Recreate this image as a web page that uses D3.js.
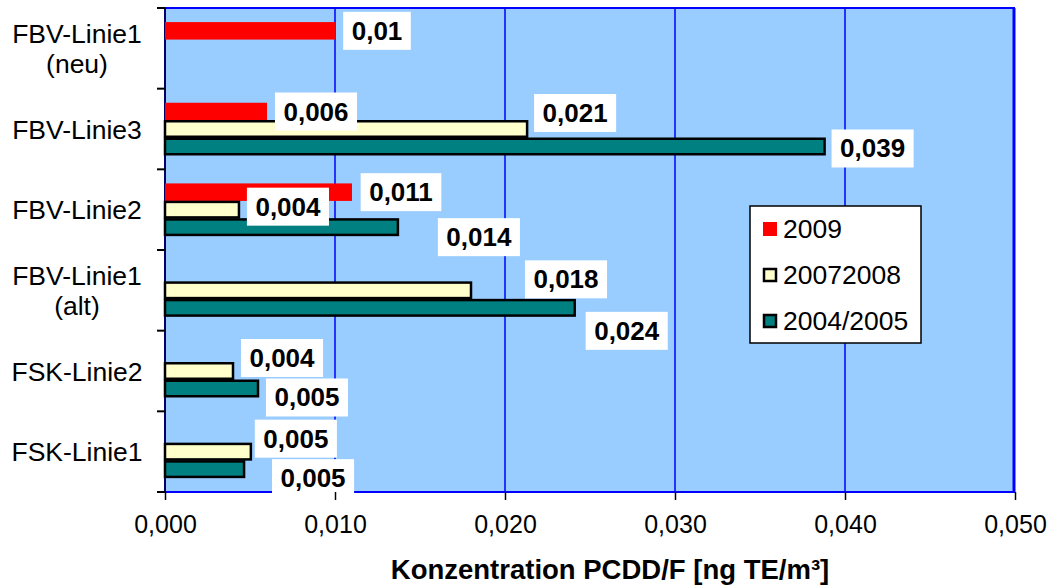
<!DOCTYPE html>
<html lang="de">
<head>
<meta charset="UTF-8">
<title>Konzentration PCDD/F</title>
<script src="https://d3js.org/d3.v7.min.js"></script>
<style>
body { margin: 0; background: #fff; }
svg { font-family: "Liberation Sans", Arial, sans-serif; }
.cat-label { font-size: 26.5px; fill: #000; }
.tick text { font-size: 25px; fill: #000; }
.val-label { font-size: 26px; font-weight: bold; fill: #000; }
.axis-title { font-size: 27.5px; font-weight: bold; }
.legend text { font-size: 26.5px; }
</style>
</head>
<body>
<svg id="chart" width="1050" height="588"></svg>
<script>

// Daten
const categories = ["FBV-Linie1 (neu)", "FBV-Linie3", "FBV-Linie2", "FBV-Linie1 (alt)", "FSK-Linie2", "FSK-Linie1"];
const series = ["2009", "20072008", "2004/2005"];
const values2009 = [0.010, 0.006, 0.011, null, null, null];
const values2007 = [null, 0.0213, 0.00435, 0.018, 0.004, 0.00505];
const values2004 = [null, 0.0388, 0.0137, 0.0241, 0.00547, 0.00465];
const xTicks = [0, 0.01, 0.02, 0.03, 0.04, 0.05];

const colors = ["#ff0000", "#ffffcc", "#008080"];
const strokes = ["none", "#000", "#000"];

// Position der Beschriftungen (Mitte relativ zum Balkenende) - von Hand verschoben wie im Original
const labelShift = [
    [[42, 0], null, null],
    [[49, 0], [48, -16], [48, 2]],
    [[49, 0], [49, -3], [81, 10]],
    [null, [95, -11], [52, 23]],
    [null, [49, -13], [49, 9]],
    [null, [45, -13], [69, 9]]
];

const svg = d3.select("#chart");
const margin = { left: 165, right: 1015, top: 8, bottom: 492 };

const x = d3.scaleLinear().domain([0, 0.05]).range([margin.left, margin.right]);
const y0 = d3.scaleBand().domain(categories).range([margin.top, margin.bottom]).padding(0);
const y1 = d3.scaleBand().domain(series).range([0, y0.bandwidth()]).paddingInner(0).paddingOuter(0.805);

const de = d3.formatLocale({ decimal: ",", thousands: ".", grouping: [3], currency: ["", " €"] });
const fmtTick = de.format(".3f");
const fmtVal = de.format(".3~f");

// Zeichenfläche
svg.append("rect")
    .attr("x", margin.left)
    .attr("y", margin.top)
    .attr("width", margin.right - margin.left)
    .attr("height", margin.bottom - margin.top)
    .attr("fill", "#99ccff");

// Gitternetz
svg.selectAll(".grid")
    .data(xTicks.slice(1, -1))
    .enter()
    .append("line")
    .attr("x1", d => x(d)).attr("x2", d => x(d))
    .attr("y1", margin.top).attr("y2", margin.bottom)
    .attr("stroke", "#0000ff")
    .attr("stroke-width", 1.5);

// Rahmen
svg.append("line").attr("x1", margin.left).attr("x2", margin.right).attr("y1", margin.top).attr("y2", margin.top)
    .attr("stroke", "#0000ff").attr("stroke-width", 2);
svg.append("line").attr("x1", margin.right - 1).attr("x2", margin.right - 1).attr("y1", margin.top).attr("y2", margin.bottom)
    .attr("stroke", "#0000ff").attr("stroke-width", 3);
svg.append("line").attr("x1", margin.left).attr("x2", margin.right).attr("y1", margin.bottom).attr("y2", margin.bottom)
    .attr("stroke", "#0000ff").attr("stroke-width", 2);
svg.append("line").attr("x1", margin.left).attr("x2", margin.left).attr("y1", margin.top).attr("y2", margin.bottom)
    .attr("stroke", "#000066").attr("stroke-width", 2);

// Balken
const rows = categories.map((c, i) => ({
    cat: c,
    idx: i,
    vals: [values2009[i], values2007[i], values2004[i]]
}));

const groups = svg.selectAll(".cat")
    .data(rows)
    .enter()
    .append("g")
    .attr("class", "cat")
    .attr("transform", d => "translate(0," + y0(d.cat) + ")");

groups.selectAll("rect")
    .data(d => d.vals.map((v, s) => ({ v: v, s: s, idx: d.idx })).filter(e => e.v !== null))
    .enter()
    .append("rect")
    .attr("x", x(0))
    .attr("y", d => y1(series[d.s]) + (d.s > 0 ? 1 : 0))
    .attr("width", d => x(d.v) - x(0))
    .attr("height", d => y1.bandwidth() - (d.s > 0 ? 2 : 0))
    .attr("fill", d => colors[d.s])
    .attr("stroke", d => strokes[d.s])
    .attr("stroke-width", 2.5);

// Datenbeschriftungen
const labels = groups.selectAll(".val")
    .data(d => d.vals.map((v, s) => ({ v: v, s: s, idx: d.idx })).filter(e => e.v !== null))
    .enter()
    .append("g")
    .attr("class", "val")
    .attr("transform", d => {
        const sh = labelShift[d.idx][d.s];
        return "translate(" + (x(d.v) + sh[0]) + "," + (y1(series[d.s]) + y1.bandwidth() / 2 + sh[1]) + ")";
    });

labels.append("rect").attr("fill", "#fff");
labels.append("text")
    .attr("class", "val-label")
    .attr("text-anchor", "middle")
    .attr("y", 9)
    .text(d => fmtVal(d.v));
labels.each(function () {
    const g = d3.select(this);
    const w = g.select("text").node().getComputedTextLength() + 17;
    g.select("rect").attr("x", -w / 2).attr("y", -19).attr("width", w).attr("height", 38);
});

// Kategorieachse
svg.selectAll(".ytick")
    .data(categories.map(c => y0(c)).concat([margin.bottom]))
    .enter()
    .append("line")
    .attr("x1", margin.left - 8).attr("x2", margin.left)
    .attr("y1", d => d).attr("y2", d => d)
    .attr("stroke", "#000").attr("stroke-width", 2);

svg.selectAll(".cat-label")
    .data(categories)
    .enter()
    .append("text")
    .attr("class", "cat-label")
    .attr("text-anchor", "middle")
    .each(function (c) {
        const lines = c.split(" ");
        const cy = y0(c) + y0.bandwidth() / 2;
        d3.select(this).selectAll("tspan")
            .data(lines)
            .enter()
            .append("tspan")
            .attr("x", 77)
            .attr("y", (l, i) => cy + 9.5 + (i - (lines.length - 1) / 2) * 30)
            .text(l => l);
    });

// Wertachse
const xAxis = svg.append("g")
    .attr("transform", "translate(0," + margin.bottom + ")")
    .call(d3.axisBottom(x).tickValues(xTicks).tickSize(8).tickPadding(15).tickFormat(fmtTick));
xAxis.select(".domain").remove();
xAxis.selectAll(".tick line").attr("stroke", "#000").attr("stroke-width", 1.5);
xAxis.selectAll(".tick text").attr("font-family", null).attr("font-size", null);

svg.append("text")
    .attr("class", "axis-title")
    .attr("x", 610)
    .attr("y", 579)
    .attr("text-anchor", "middle")
    .text("Konzentration PCDD/F [ng TE/m³]");

// Legende
const legend = svg.append("g").attr("class", "legend");
legend.append("rect")
    .attr("x", 750).attr("y", 206)
    .attr("width", 171).attr("height", 137)
    .attr("fill", "#fff")
    .attr("stroke", "#000")
    .attr("stroke-width", 1.5);

const items = legend.selectAll(".item")
    .data(series)
    .enter()
    .append("g")
    .attr("transform", (d, i) => "translate(0," + (229 + i * 46) + ")");

items.append("rect")
    .attr("x", (d, i) => i === 0 ? 763 : 764)
    .attr("y", (d, i) => i === 0 ? -7 : -6)
    .attr("width", (d, i) => i === 0 ? 14 : 12)
    .attr("height", (d, i) => i === 0 ? 14 : 12)
    .attr("fill", (d, i) => colors[i])
    .attr("stroke", (d, i) => strokes[i])
    .attr("stroke-width", 2.5);

items.append("text")
    .attr("x", 783)
    .attr("y", 9)
    .text(d => d);

</script>
</body>
</html>
